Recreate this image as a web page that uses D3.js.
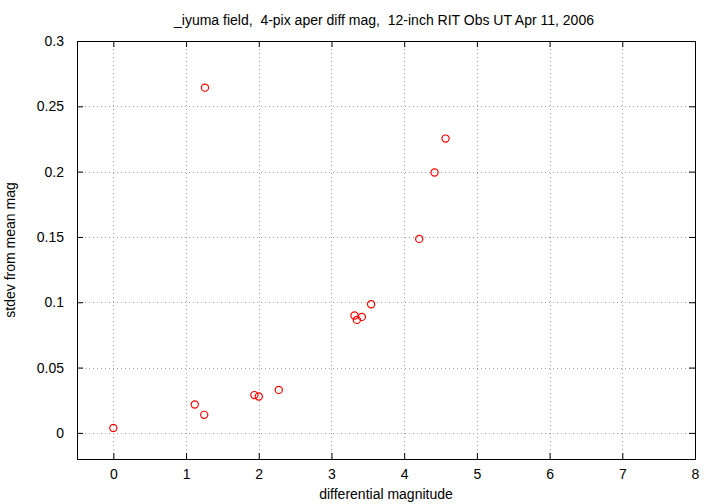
<!DOCTYPE html>
<html><head><meta charset="utf-8">
<script src="https://cdn.jsdelivr.net/npm/d3@7"></script>
<style>body{margin:0;background:#fff}svg{display:block}text{font-family:"Liberation Sans",Arial,sans-serif;fill:#000}</style>
</head><body>
<script>
const xVals = [0.0, 1.12, 1.25, 1.94, 2.0, 2.275, 1.26, 3.545, 3.317, 3.35, 3.418, 4.569, 4.418, 4.207];
const yVals = [0.0038, 0.0217, 0.0138, 0.0289, 0.0279, 0.0329, 0.2643, 0.0985, 0.0898, 0.0865, 0.0888, 0.2253, 0.1993, 0.1485];
const xTicks = [0,1,2,3,4,5,6,7,8];
const yTicks = [0,0.05,0.1,0.15,0.2,0.25,0.3];
const title = "_iyuma field,  4-pix aper diff mag,  12-inch RIT Obs UT Apr 11, 2006";

const W=720,H=504, L=77, R=695, T=41, B=459;
const FS="14px";
const svg=d3.select("body").append("svg").attr("width",W).attr("height",H);
const x=d3.scaleLinear().domain([-0.5,8]).range([L,R]);
const y=d3.scaleLinear().domain([-0.02,0.3]).range([B,T]);

const g=svg.append("g");
g.selectAll(".gx").data(xTicks.filter(d=>d<8)).join("line")
 .attr("x1",d=>Math.round(x(d))+0.5).attr("x2",d=>Math.round(x(d))+0.5).attr("y1",T).attr("y2",B)
 .attr("stroke","#a0a0a0").attr("stroke-width",1).attr("stroke-dasharray","1,3");
g.selectAll(".gy").data(yTicks.filter(d=>d<0.3)).join("line")
 .attr("y1",d=>Math.round(y(d))+0.5).attr("y2",d=>Math.round(y(d))+0.5).attr("x1",L).attr("x2",R)
 .attr("stroke","#a0a0a0").attr("stroke-width",1).attr("stroke-dasharray","1,3");

const fmt=d=>d3.format("")(+d.toFixed(2));
const ax=svg.append("g").attr("transform",`translate(0,${B})`).call(d3.axisBottom(x).tickValues(xTicks).tickSize(-6).tickPadding(10).tickFormat(d=>d));
const axT=svg.append("g").attr("transform",`translate(0,${T})`).call(d3.axisTop(x).tickValues(xTicks).tickSize(-6).tickFormat(""));
const ay=svg.append("g").attr("transform",`translate(${L},0)`).call(d3.axisLeft(y).tickValues(yTicks).tickSize(-6).tickPadding(13).tickFormat(fmt));
const ayR=svg.append("g").attr("transform",`translate(${R},0)`).call(d3.axisRight(y).tickValues(yTicks).tickSize(-6).tickFormat(""));
[ax,axT,ay,ayR].forEach(a=>{a.select(".domain").remove();a.selectAll("line").attr("stroke","#000");a.selectAll("text").style("font-size",FS).attr("font-family","Liberation Sans, Arial, sans-serif");});
svg.append("rect").attr("x",L+0.5).attr("y",T+0.5).attr("width",R-L).attr("height",B-T).attr("fill","none").attr("stroke","#000").attr("stroke-width",1);

svg.selectAll(".pt").data(xVals.map((v,i)=>[v,yVals[i]])).join("circle")
 .attr("cx",d=>x(d[0])).attr("cy",d=>y(d[1])).attr("r",3.6)
 .attr("fill","none").attr("stroke","#ff0000").attr("stroke-width",1.2);

svg.append("text").attr("x",384).attr("y",25).attr("text-anchor","middle").style("font-size",FS).style("white-space","pre").attr("xml:space","preserve").text(title);
svg.append("text").attr("x",386).attr("y",499).attr("text-anchor","middle").style("font-size",FS).text("differential magnitude");
svg.append("text").attr("transform","translate(15,250) rotate(-90)").attr("text-anchor","middle").style("font-size",FS).text("stdev from mean mag");
</script>
</body></html>
